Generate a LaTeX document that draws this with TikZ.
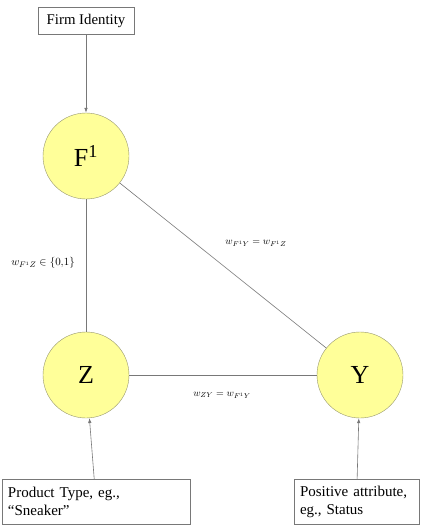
\documentclass[tikz,border=0pt]{standalone}
\usepackage{fontspec}
\setmainfont{Liberation Serif}
\usetikzlibrary{arrows.meta}
\definecolor{nodeyellow}{RGB}{255,255,153}
\definecolor{ringcol}{RGB}{150,150,110}
\definecolor{linecol}{RGB}{120,120,120}

\begin{document}
\begin{tikzpicture}[x=1pt,y=-1pt,
		var/.style={circle,draw=ringcol,fill=nodeyellow,minimum size=86pt,inner sep=0pt,font=\fontsize{26}{28}\selectfont},
		src/.style={draw=linecol,fill=white,font=\fontsize{15}{18}\selectfont,align=left,inner xsep=6pt,minimum height=45pt},
		lab/.style={font=\fontsize{10}{12}\selectfont},
		link/.style={draw=linecol,line width=0.6pt},
		feed/.style={link,-{Latex[length=5pt,width=3.5pt]}}]

		\useasboundingbox (0,0) rectangle (423,528);

		\node[draw=linecol,font=\fontsize{14.8}{17}\selectfont,minimum width=96pt,minimum height=27pt] (firm) at (86,20.5) {Firm Identity};

		\node[var] (f) at (86,156) {F\textsuperscript{1}};
		\node[var] (z) at (86,375) {Z};
		\node[var] (y) at (360,375) {Y};

		\node[src,text width=176pt] (prod) at (96,501.5) {Product Type, eg.,\\``Sneaker''};
		\node[src,text width=113pt] (pos) at (356.5,501.5) {Positive attribute,\\eg., Status};

		\draw[feed] (firm) -- (f);
		\draw[link] (f) -- (z);
		\draw[link] (f) -- (y);
		\draw[link] (z) -- (y);
		\draw[feed] (prod) -- (z);
		\draw[feed] (pos) -- (y);

		\node[lab,font=\fontsize{11}{13}\selectfont] (wfz) at (43,263) {$w_{F^1Z}\in\{0{,}1\}$};
		\node[lab] (wfy) at (256,243) {$w_{F^1Y}=w_{F^1Z}$};
		\node[lab] (wzy) at (222,395) {$w_{ZY}=w_{F^1Y}$};

\end{tikzpicture}
\end{document}
